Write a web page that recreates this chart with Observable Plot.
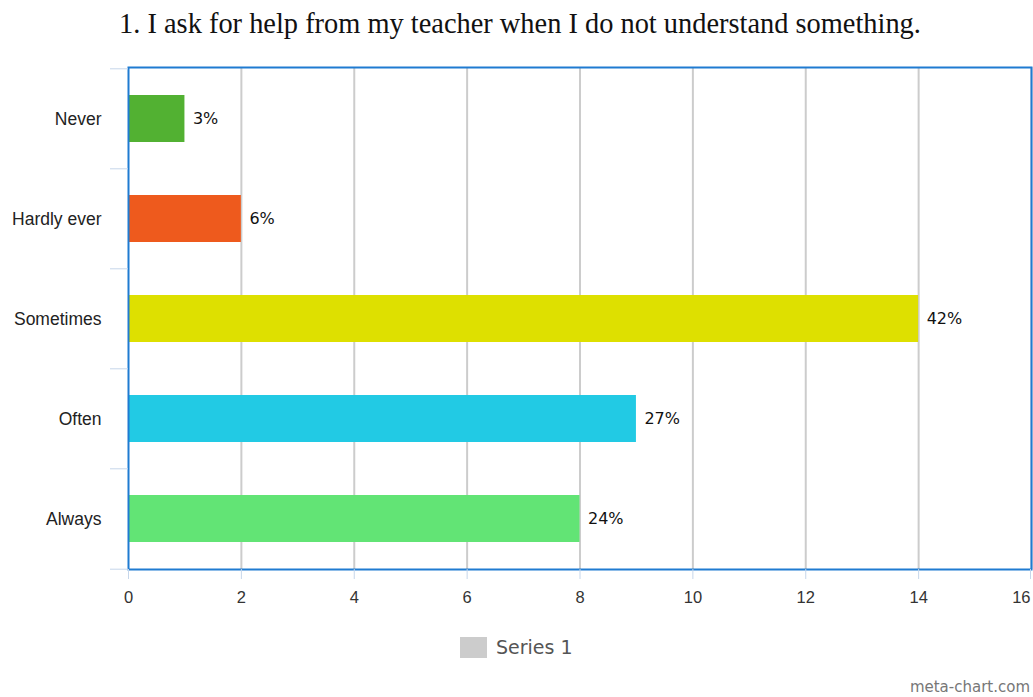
<!DOCTYPE html>
<html><head><meta charset="utf-8">
<script src="https://cdn.jsdelivr.net/npm/d3@7"></script>
<script src="https://cdn.jsdelivr.net/npm/@observablehq/plot@0.6"></script>
<style>
body{margin:0;background:#fff;}
#wrap{position:relative;width:1033px;height:697px;overflow:hidden;}
#title{position:absolute;left:0;width:1040px;top:6px;line-height:36px;text-align:center;font-family:"Liberation Serif","Times New Roman",serif;font-size:28.4px;color:#111;white-space:nowrap;}
#chart{position:absolute;top:50px;left:0;}
#lgbox{position:absolute;left:460px;top:637px;width:27px;height:21px;background:#cccccc;}
#lgtext{position:absolute;left:496px;top:634px;line-height:26px;font-family:"DejaVu Sans",sans-serif;font-size:19px;color:#555;}
#wm{position:absolute;right:3px;top:678px;font-family:"DejaVu Sans",sans-serif;font-size:15px;color:#777;}
</style></head><body>
<div id="wrap">
<div id="title">1. I ask for help from my teacher when I do not understand something.</div>
<div id="chart"></div>
<div id="lgbox"></div>
<div id="lgtext">Series 1</div>
<div id="wm">meta-chart.com</div>
</div>
<script>
const categories = ["Never", "Hardly ever", "Sometimes", "Often", "Always"];
const values = [1, 2, 14, 9, 8];
const labels = ["3%", "6%", "42%", "27%", "24%"];
const colors = ["#52b132", "#ee5a1d", "#dee000", "#22cae4", "#62e475"];
const xTicks = [0, 2, 4, 6, 8, 10, 12, 14, 16];

const data = categories.map((c, i) => ({category: c, value: values[i], label: labels[i]}));
const W = 1033, H = 570, mt = 17, mb = 51, ml = 128, mr = 2;
const step = (H - mt - mb) / categories.length;
const tickBlue = "#c6d6ea";

const plot = Plot.plot({
  width: W, height: H,
  marginTop: mt, marginBottom: mb, marginLeft: ml, marginRight: mr,
  style: {background: "#fff", overflow: "visible"},
  x: {domain: [0, 16], label: null},
  y: {domain: categories, paddingInner: 0.53, paddingOuter: 0.265, label: null},
  color: {domain: categories, range: colors},
  marks: [
    Plot.ruleX(xTicks.filter(t => t > 0), {stroke: "#cccccc", strokeWidth: 2}),
    Plot.barX(data, {y: "category", x: "value", fill: "category"}),
    Plot.text(data, {y: "category", x: "value", text: "label", textAnchor: "start", dx: 8, fontSize: 16, fill: "#111", fontFamily: "DejaVu Sans"}),
    Plot.frame({stroke: "#1f7bd1", strokeWidth: 2}),
    Plot.axisY({tickSize: 0, tickPadding: 27, fontSize: 17.5, fill: "#222", fontFamily: "Liberation Sans", label: null}),
    Plot.axisY(categories, {tickSize: 18, tickFormat: () => "", dy: -step / 2, stroke: tickBlue, label: null}),
    Plot.axisY([categories[categories.length - 1]], {tickSize: 18, tickFormat: () => "", dy: step / 2, stroke: tickBlue, label: null}),
    Plot.axisX(xTicks.slice(0, -1), {tickSize: 10, tickPadding: 12, stroke: tickBlue, fill: "#333", fontSize: 16.5, fontFamily: "Liberation Sans", label: null}),
    Plot.axisX(xTicks.slice(-1), {tickSize: 10, tickPadding: 12, stroke: tickBlue, fill: "#333", fontSize: 16.5, fontFamily: "Liberation Sans", textAnchor: "end", dx: -1, label: null})
  ]
});
document.getElementById("chart").appendChild(plot);
</script>
</body></html>
